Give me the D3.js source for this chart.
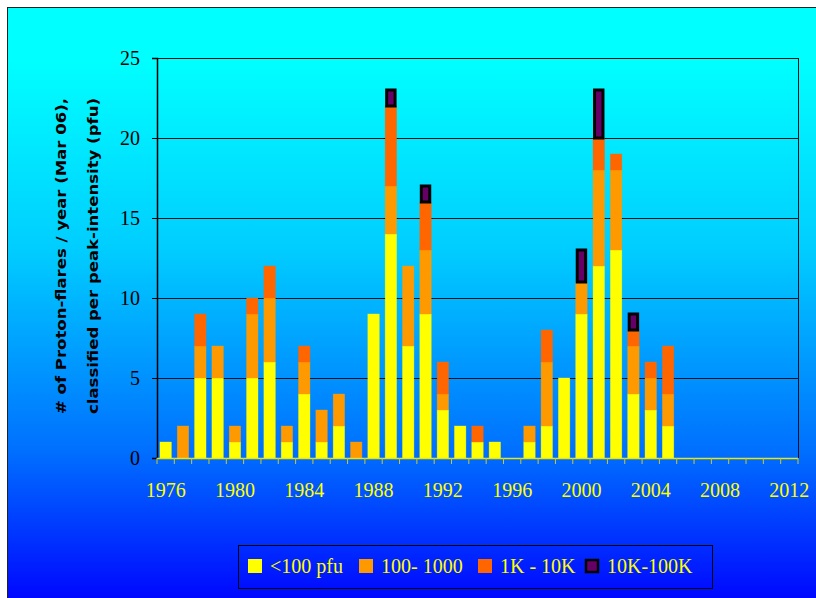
<!DOCTYPE html>
<html>
<head>
<meta charset="utf-8">
<script src="https://cdn.jsdelivr.net/npm/d3@7"></script>
<style>
  html, body { margin: 0; padding: 0; background: #ffffff; }
  svg { display: block; }
</style>
</head>
<body>
<svg id="chart" width="816" height="598"></svg>
<script>
// Proton flares per year, split by peak intensity class
const years = d3.range(1976, 2013);
const under100   = [1,0,5,5,1,5,6,1,4,1,2,0,9,14,7,9,3,2,1,1,0,1,2,5,9,12,13,4,3,2,0,0,0,0,0,0,0];
const r100to1000 = [0,2,2,2,1,4,4,1,2,2,2,1,0,3,5,4,1,0,0,0,0,1,4,0,2,6,5,3,2,2,0,0,0,0,0,0,0];
const r1Kto10K   = [0,0,2,0,0,1,2,0,1,0,0,0,0,5,0,3,2,0,1,0,0,0,2,0,0,2,1,1,1,3,0,0,0,0,0,0,0];
const r10Kto100K = [0,0,0,0,0,0,0,0,0,0,0,0,0,1,0,1,0,0,0,0,0,0,0,0,2,3,0,1,0,0,0,0,0,0,0,0,0];
const seriesNames = ["<100 pfu", "100- 1000", "1K - 10K", "10K-100K"];
const seriesColors = ["#FFFF00", "#FF9900", "#FF6600", "#660066"];
const yTicks = [0, 5, 10, 15, 20, 25];
const xLabelYears = [1976, 1980, 1984, 1988, 1992, 1996, 2000, 2004, 2008, 2012];
const yTitle = ["# of Proton-flares / year (Mar 06),", "classified per peak-intensity (pfu)"];

const rows = years.map((yr, i) => ({
  year: yr, s0: under100[i], s1: r100to1000[i], s2: r1Kto10K[i], s3: r10Kto100K[i]
}));
const keys = ["s0", "s1", "s2", "s3"];

const svg = d3.select("#chart");

// chart-area background gradient
const defs = svg.append("defs");
const grad = defs.append("linearGradient")
  .attr("id", "bg").attr("gradientUnits", "userSpaceOnUse")
  .attr("x1", 0).attr("y1", 0).attr("x2", 0).attr("y2", 598);
[[0, "#00FFFF"], [60, "#00FFFF"], [250, "#00CDFF"], [450, "#0070FF"], [598, "#0008FF"]]
  .forEach(([yy, c]) => grad.append("stop").attr("offset", yy / 598).attr("stop-color", c));

svg.append("rect")
  .attr("x", 7.5).attr("y", 7.5).attr("width", 830).attr("height", 620)
  .attr("fill", "url(#bg)").attr("stroke", "#222").attr("stroke-width", 1);

const plotLeft = 157, plotRight = 798, plotTop = 58, plotBottom = 458;

const x = d3.scaleBand().domain(years).range([plotLeft, plotRight]).paddingInner(0.34).paddingOuter(0.17);
const y = d3.scaleLinear().domain([0, 25]).range([plotBottom, plotTop]);

// gridlines
svg.append("g").selectAll("line")
  .data(yTicks.filter(d => d > 0))
  .join("line")
  .attr("x1", plotLeft).attr("x2", plotRight)
  .attr("y1", d => y(d) + 0.5).attr("y2", d => y(d) + 0.5)
  .attr("stroke", "#111").attr("stroke-width", 1);

// right border of plot area
svg.append("line")
  .attr("x1", plotRight + 0.5).attr("x2", plotRight + 0.5)
  .attr("y1", plotTop).attr("y2", plotBottom)
  .attr("stroke", "#111").attr("stroke-width", 1);

// stacked bars
const stacked = d3.stack().keys(keys)(rows);
const layers = svg.append("g").selectAll("g")
  .data(stacked)
  .join("g")
  .attr("fill", (d, i) => seriesColors[i]);

layers.each(function (layer, li) {
  const segs = layer.filter(d => d[1] - d[0] > 0);
  const g = d3.select(this);
  if (li < 3) {
    g.selectAll("rect").data(segs).join("rect")
      .attr("x", d => x(d.data.year))
      .attr("width", x.bandwidth())
      .attr("y", d => y(d[1]))
      .attr("height", d => y(d[0]) - y(d[1]))
      .attr("stroke", seriesColors[li]).attr("stroke-opacity", 0.6).attr("stroke-width", 0.6);
  } else {
    g.selectAll("rect").data(segs).join("rect")
      .attr("x", d => x(d.data.year) + 1.5)
      .attr("width", x.bandwidth() - 3)
      .attr("y", d => y(d[1]))
      .attr("height", d => y(d[0]) - y(d[1]))
      .attr("stroke", "#000").attr("stroke-width", 3);
  }
});

// y axis
const yAxis = svg.append("g")
  .attr("transform", `translate(${plotLeft},0)`)
  .call(d3.axisLeft(y).tickValues(yTicks).tickSize(5).tickPadding(12));
yAxis.select(".domain").attr("stroke", "#000").attr("stroke-width", 1.5);
yAxis.selectAll(".tick line").attr("stroke", "#000");
yAxis.selectAll("text")
  .attr("fill", "#000")
  .style("font-family", "'Liberation Serif', 'Times New Roman', serif")
  .style("font-size", "20px");

// x axis: yellow line, ticks between categories, labels every 4 years
const xg = svg.append("g").attr("transform", `translate(0,${plotBottom})`);
xg.append("line")
  .attr("x1", plotLeft).attr("x2", plotRight).attr("y1", 0.5).attr("y2", 0.5)
  .attr("stroke", "#E8E800").attr("stroke-width", 1.5);
const step = x.step();
const boundaries = years.map(yr => x(yr) - x.paddingInner() * step / 2).concat([plotRight]);
xg.selectAll("line.tk").data(boundaries).join("line")
  .attr("class", "tk")
  .attr("x1", d => d).attr("x2", d => d)
  .attr("y1", 0).attr("y2", 6)
  .attr("stroke", "#C8C840").attr("stroke-width", 1);
xg.selectAll("text").data(xLabelYears).join("text")
  .attr("x", d => x(d) + x.bandwidth() / 2)
  .attr("y", 39)
  .attr("text-anchor", "middle")
  .attr("fill", "#FFFF00")
  .style("font-family", "'Liberation Serif', 'Times New Roman', serif")
  .style("font-size", "20px")
  .text(d => d);

// y axis title (two rotated lines)
svg.append("g").selectAll("text")
  .data(yTitle)
  .join("text")
  .attr("transform", (d, i) => `translate(${66 + i * 32},256) rotate(-90)`)
  .attr("text-anchor", "middle")
  .attr("fill", "#000")
  .attr("textLength", 316)
  .attr("lengthAdjust", "spacingAndGlyphs")
  .style("font-family", "'DejaVu Sans', sans-serif")
  .style("font-weight", "bold")
  .style("font-size", "14px")
  .text(d => d);

// legend
const legend = svg.append("g");
legend.append("rect")
  .attr("x", 238.5).attr("y", 545.5).attr("width", 474).attr("height", 43)
  .attr("fill", "none").attr("stroke", "#000").attr("stroke-width", 1);
const legendX = [248, 359, 478, 585];
const items = legend.selectAll("g.item").data(seriesNames).join("g")
  .attr("class", "item")
  .attr("transform", (d, i) => `translate(${legendX[i]},559)`);
items.append("rect")
  .attr("x", (d, i) => i === 3 ? 1 : 0).attr("y", (d, i) => i === 3 ? 1 : 0)
  .attr("width", (d, i) => i === 3 ? 12 : 14).attr("height", (d, i) => i === 3 ? 12 : 14)
  .attr("fill", (d, i) => seriesColors[i])
  .attr("stroke", (d, i) => i === 3 ? "#000" : "none")
  .attr("stroke-width", 2.5);
items.append("text")
  .attr("x", 22).attr("y", 14)
  .attr("fill", "#FFFF00")
  .style("font-family", "'Liberation Serif', 'Times New Roman', serif")
  .style("font-size", "20px")
  .text(d => d);
</script>
</body>
</html>
